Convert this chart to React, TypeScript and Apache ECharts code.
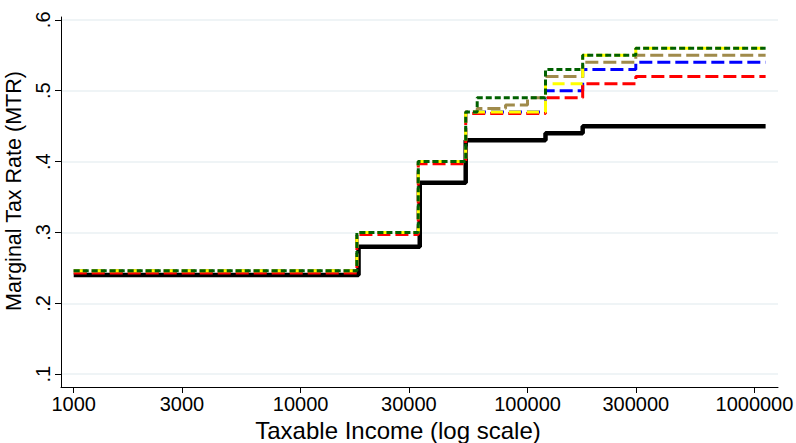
import React, { useEffect, useRef } from "react";
import * as echarts from "echarts";

// Axis ticks
const incomeTicks = [1000, 3000, 10000, 30000, 100000, 300000, 1000000];
const rateTicks = [0.1, 0.2, 0.3, 0.4, 0.5, 0.6];

// Bracket start points (taxable income) and the marginal rate that applies from each one
const blackIncome = [1000, 18000, 33500, 53400, 120000, 175000, 1120000];
const blackRate = [0.24, 0.28, 0.37, 0.43, 0.44, 0.45, 0.45];

const blueIncome = [1000, 17700, 33000, 53400, 120000, 175000, 300000, 1120000];
const blueRate = [0.246, 0.3, 0.4, 0.47, 0.5, 0.53, 0.54, 0.54];

const redIncome = [1000, 17700, 33000, 53400, 120000, 175000, 300000, 1120000];
const redRate = [0.243, 0.297, 0.397, 0.468, 0.49, 0.51, 0.52, 0.52];

const tanIncome = [1000, 17700, 33000, 53400, 60000, 80000, 100000, 120000, 175000, 300000, 1120000];
const tanRate = [0.246, 0.3, 0.4, 0.47, 0.475, 0.48, 0.49, 0.52, 0.54, 0.55, 0.55];

const yellowIncome = [1000, 17700, 33000, 53400, 120000, 175000, 300000, 1120000];
const yellowRate = [0.246, 0.3, 0.4, 0.47, 0.51, 0.55, 0.56, 0.56];

const greenIncome = [1000, 17700, 33000, 53400, 60000, 120000, 175000, 300000, 1120000];
const greenRate = [0.246, 0.3, 0.4, 0.47, 0.49, 0.53, 0.55, 0.56, 0.56];

const FONT = "Liberation Sans";

function pairs(xs: number[], ys: number[]) {
  return xs.map((x, i) => [x, ys[i]]);
}

function stepSeries(
  name: string,
  xs: number[],
  ys: number[],
  color: string,
  width: number,
  dash: number[] | "solid"
) {
  return {
    name,
    type: "line",
    step: "end",
    symbol: "none",
    data: pairs(xs, ys),
    lineStyle: { color, width, type: dash },
    emphasis: { disabled: true },
  };
}

export default function App() {
  const ref = useRef<HTMLDivElement>(null);

  useEffect(() => {
    if (!ref.current) return;
    const chart = echarts.init(ref.current, undefined, { renderer: "svg" });
    chart.setOption({
      animation: false,
      backgroundColor: "#ffffff",
      textStyle: { fontFamily: FONT },
      grid: {
        left: 61,
        right: 18,
        top: 17,
        bottom: 56,
        containLabel: false,
        outerBoundsMode: "none",
      },
      xAxis: {
        type: "log",
        logBase: 10,
        min: 879,
        max: 1270000,
        name: "Taxable Income (log scale)",
        nameLocation: "middle",
        nameGap: 31,
        // title is centred on the whole figure rather than on the plot area
        nameTextStyle: { fontSize: 24, color: "#000", fontFamily: FONT, padding: [0, 43, 0, 0] },
        axisLine: { show: true, lineStyle: { color: "#000", width: 1 } },
        axisTick: { show: true, length: 6, customValues: incomeTicks, lineStyle: { color: "#000" } },
        axisLabel: {
          customValues: incomeTicks,
          fontSize: 20,
          color: "#000",
          margin: 7,
          fontFamily: FONT,
          formatter: (v: number) => String(Math.round(v)),
        },
        splitLine: { show: false },
        minorTick: { show: false },
        minorSplitLine: { show: false },
      },
      yAxis: {
        type: "value",
        min: 0.082,
        max: 0.604,
        name: "Marginal Tax Rate (MTR)",
        nameLocation: "middle",
        nameGap: 24,
        nameTextStyle: { fontSize: 21.5, color: "#000", fontFamily: FONT, padding: [0, 0, 0, 22] },
        axisLine: { show: true, lineStyle: { color: "#000", width: 1 } },
        axisTick: { show: true, length: 6, customValues: rateTicks, lineStyle: { color: "#000" } },
        axisLabel: {
          customValues: rateTicks,
          rotate: 90,
          fontSize: 20,
          color: "#000",
          margin: 8,
          fontFamily: FONT,
          formatter: (v: number) => "." + Math.round(v * 10),
        },
        splitLine: { show: true, lineStyle: { color: "#eaf0f3", width: 1.5 } },
      },
      series: [
        stepSeries("black", blackIncome, blackRate, "#000000", 4.5, "solid"),
        stepSeries("blue", blueIncome, blueRate, "#0000ff", 3, [13, 5]),
        stepSeries("red", redIncome, redRate, "#ff0000", 3, [13, 5]),
        stepSeries("tan", tanIncome, tanRate, "#a08b4b", 3, [13, 5]),
        stepSeries("yellow", yellowIncome, yellowRate, "#ffff00", 3, [12, 6]),
        stepSeries("green", greenIncome, greenRate, "#006000", 3, [6, 3]),
      ],
    });
    return () => chart.dispose();
  }, []);

  return (
    <div
      ref={ref}
      style={{ position: "fixed", left: 0, top: 0, width: 796, height: 443, background: "#fff" }}
    />
  );
}
